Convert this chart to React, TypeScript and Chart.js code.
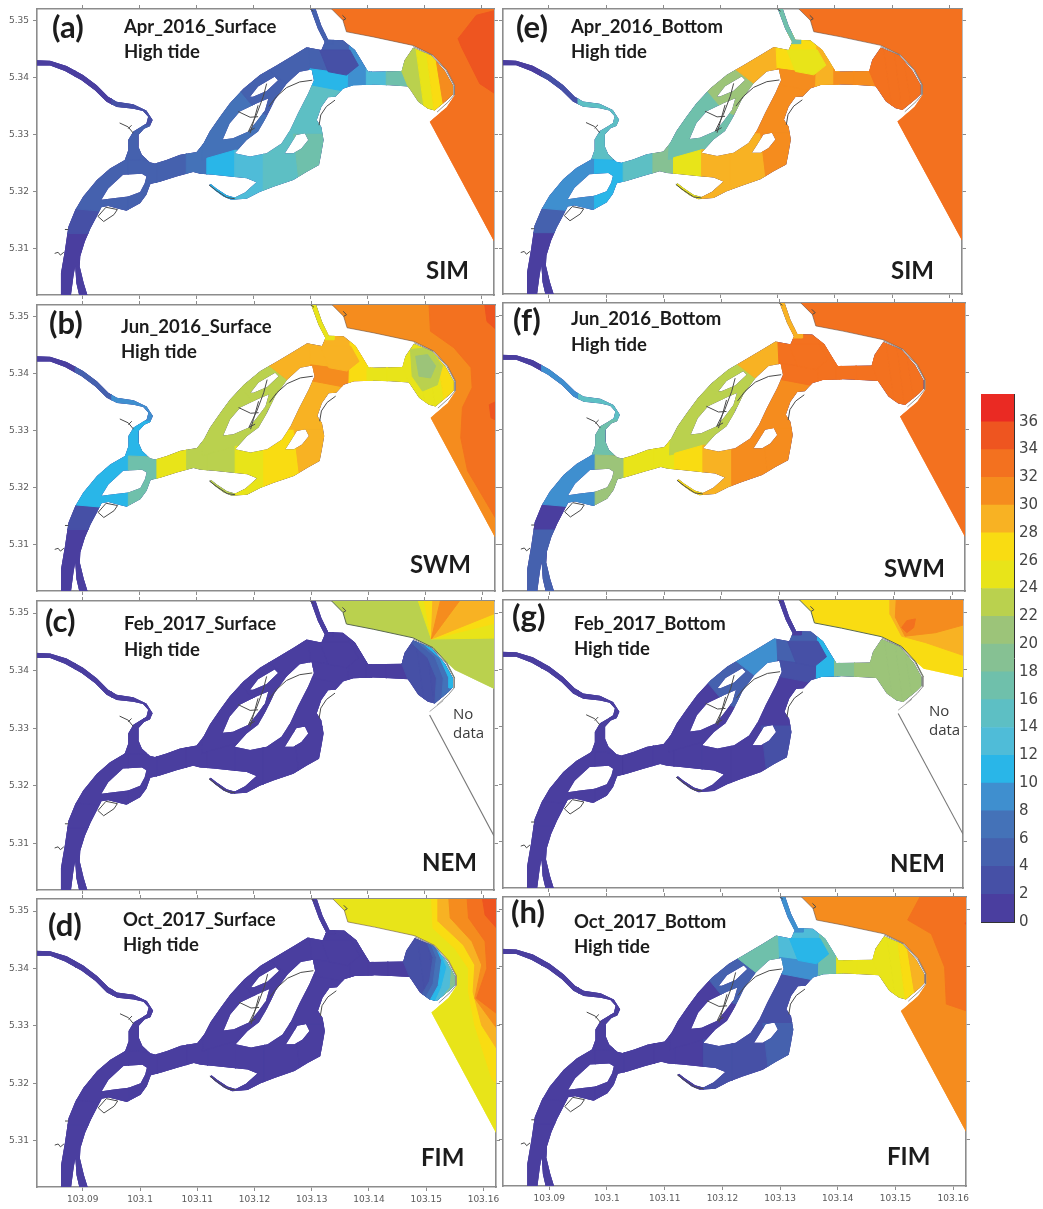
import React, { useEffect, useRef } from "react";
import { Chart, registerables } from "chart.js";

type Pt = number[];

// ---------- colour scale ----------
const colourbarSteps = [0, 2, 4, 6, 8, 10, 12, 14, 16, 18, 20, 22, 24, 26, 28, 30, 32, 34, 36];
const colourbarColours = ["#4a3e9f", "#4650a6", "#4561ae", "#4472b8", "#3f8fcf", "#29b6e8", "#4fbcd8", "#5dbfc4", "#6fc0ab", "#86c193", "#9cc479", "#bad14e", "#e8e419", "#f9dc12", "#f8b223", "#f58c1e", "#f3711f", "#ee5520", "#ea2a23"];
const colourFor = (v: number) => colourbarColours[Math.min(18, Math.floor(v / 2))];

// ---------- axes ----------
const lonTicks = [103.09, 103.1, 103.11, 103.12, 103.13, 103.14, 103.15, 103.16];
const latTicks = [5.31, 5.32, 5.33, 5.34, 5.35];

// ---------- estuary geometry (lon, lat) ----------
const riverOutline: Pt[] = [[103.0816,5.3431],[103.0843,5.3430],[103.0872,5.3421],[103.0901,5.3405],[103.0925,5.3387],[103.0945,5.3367],[103.0960,5.3358],[103.0989,5.3354],[103.1012,5.3343],[103.1023,5.3326],[103.1018,5.3315],[103.1008,5.3311],[103.0998,5.3300],[103.0998,5.3279],[103.1004,5.3265],[103.1018,5.3252],[103.1027,5.3250],[103.1047,5.3256],[103.1071,5.3265],[103.1100,5.3270],[103.1112,5.3285],[103.1123,5.3306],[103.1141,5.3332],[103.1158,5.3355],[103.1182,5.3381],[103.1211,5.3405],[103.1240,5.3422],[103.1270,5.3440],[103.1293,5.3454],[103.1319,5.3449],[103.1325,5.3463],[103.1313,5.3486],[103.1299,5.3524],[103.1308,5.3524],[103.1319,5.3492],[103.1331,5.3467],[103.1357,5.3466],[103.1378,5.3449],[103.1389,5.3431],[103.1401,5.3411],[103.1460,5.3412],[103.1465,5.3431],[103.1480,5.3453],[103.1512,5.3440],[103.1536,5.3412],[103.1550,5.3387],[103.1550,5.3371],[103.1542,5.3363],[103.1518,5.3343],[103.1506,5.3346],[103.1489,5.3358],[103.1477,5.3376],[103.1471,5.3385],[103.1439,5.3387],[103.1410,5.3388],[103.1375,5.3387],[103.1357,5.3381],[103.1344,5.3367],[103.1331,5.3366],[103.1319,5.3349],[103.1311,5.3326],[103.1319,5.3314],[103.1323,5.3291],[103.1319,5.3268],[103.1315,5.3247],[103.1293,5.3235],[103.1270,5.3221],[103.1235,5.3209],[103.1211,5.3200],[103.1188,5.3188],[103.1161,5.3186],[103.1147,5.3192],[103.1132,5.3203],[103.1122,5.3212],[103.1125,5.3214],[103.1135,5.3206],[103.1153,5.3194],[103.1167,5.3190],[103.1185,5.3199],[103.1205,5.3217],[103.1188,5.3224],[103.1158,5.3227],[103.1129,5.3230],[103.1106,5.3232],[103.1094,5.3235],[103.1065,5.3227],[103.1036,5.3218],[103.1019,5.3214],[103.1012,5.3195],[103.1001,5.3180],[103.0977,5.3167],[103.0961,5.3171],[103.0945,5.3175],[103.0933,5.3173],[103.0925,5.3157],[103.0914,5.3136],[103.0904,5.3113],[103.0896,5.3087],[103.0895,5.3069],[103.0902,5.3040],[103.0910,5.3014],[103.0895,5.3014],[103.0889,5.3040],[103.0887,5.3069],[103.0884,5.3052],[103.0879,5.3014],[103.0862,5.3014],[103.0862,5.3057],[103.0869,5.3098],[103.0875,5.3139],[103.0887,5.3168],[103.0901,5.3192],[103.0925,5.3221],[103.0948,5.3241],[103.0974,5.3256],[103.0980,5.3273],[103.0980,5.3291],[103.0989,5.3306],[103.1004,5.3315],[103.1012,5.3320],[103.1015,5.3332],[103.1006,5.3342],[103.0989,5.3346],[103.0960,5.3349],[103.0942,5.3358],[103.0922,5.3378],[103.0898,5.3396],[103.0869,5.3412],[103.0843,5.3422],[103.0816,5.3422]];
const islandNorth: Pt[] = [[103.1194,5.3367],[103.1208,5.3385],[103.1237,5.3402],[103.1243,5.3396],[103.1223,5.3377],[103.1199,5.3367]];
const islandWest: Pt[] = [[103.1146,5.3292],[103.1158,5.3320],[103.1176,5.3341],[103.1205,5.3355],[103.1226,5.3364],[103.1220,5.3343],[103.1205,5.3323],[103.1191,5.3306],[103.1164,5.3294]];
const islandCentral: Pt[] = [[103.1167,5.3268],[103.1188,5.3291],[103.1208,5.3306],[103.1223,5.3332],[103.1237,5.3361],[103.1258,5.3390],[103.1281,5.3411],[103.1302,5.3415],[103.1306,5.3396],[103.1296,5.3373],[103.1278,5.3338],[103.1264,5.3308],[103.1249,5.3285],[103.1223,5.3268],[103.1194,5.3262]];
const islandEast: Pt[] = [[103.1255,5.3268],[103.1264,5.3282],[103.1275,5.3300],[103.1290,5.3303],[103.1296,5.3291],[103.1284,5.3276],[103.1270,5.3268]];
const islandSouthWest: Pt[] = [[103.0933,5.3186],[103.0945,5.3206],[103.0971,5.3230],[103.1004,5.3232],[103.1012,5.3227],[103.1009,5.3215],[103.1001,5.3200],[103.0980,5.3192],[103.0954,5.3189]];
const riverRings = [riverOutline, islandNorth, islandWest, islandCentral, islandEast, islandSouthWest];

const seaCoast: Pt[] = [[103.1334,5.3524],[103.1357,5.3501],[103.1363,5.3481],[103.1410,5.3472],[103.1480,5.3457],[103.1515,5.3440],[103.1539,5.3414],[103.1553,5.3387]];
const seaFull: Pt[] = [[103.1334,5.3530],[103.1650,5.3530],[103.1650,5.3087],[103.1622,5.3113],[103.1509,5.3323],[103.1539,5.3349],[103.1553,5.3370],...seaCoast.slice().reverse()];
const seaNorthFeb: Pt[] = [[103.1334,5.3530],[103.1650,5.3530],[103.1650,5.3355],[103.1553,5.3401],...seaCoast.slice(0, 7).reverse()];
const seaNorthFebBottom: Pt[] = [[103.1334,5.3530],[103.1650,5.3530],[103.1650,5.3380],[103.1553,5.3401],...seaCoast.slice(0, 7).reverse()];

// ---------- thin grey channels ----------
const creekWest: Pt[] = [[103.0965,5.3321],[103.0980,5.3314],[103.0989,5.3303]];
const creekWestTick: Pt[] = [[103.0980,5.3311],[103.0986,5.3317]];
const networkA: Pt[] = [[103.1173,5.3341],[103.1194,5.3331],[103.1208,5.3332]];
const networkB: Pt[] = [[103.1223,5.3390],[103.1217,5.3367],[103.1205,5.3335],[103.1191,5.3306],[103.1202,5.3312]];
const networkC: Pt[] = [[103.1208,5.3352],[103.1199,5.3320],[103.1194,5.3303]];
const creekMid: Pt[] = [[103.1227,5.3350],[103.1240,5.3367],[103.1258,5.3383],[103.1281,5.3393],[103.1303,5.3396]];
const creekEast: Pt[] = [[103.1315,5.3317],[103.1318,5.3335],[103.1328,5.3350],[103.1343,5.3361]];
const tailLine: Pt[] = [[103.1122,5.3212],[103.1135,5.3202],[103.1153,5.3190],[103.1167,5.3188]];
const islandSouthLine: Pt[] = [[103.0927,5.3157],[103.0941,5.3173],[103.0961,5.3169],[103.0955,5.3160],[103.0937,5.3148],[103.0927,5.3157]];
const squiggleWest: Pt[] = [[103.0851,5.3092],[103.0857,5.3094],[103.0861,5.3089],[103.0867,5.3094]];
const stubWest: Pt[] = [[103.0869,5.3134],[103.0875,5.3134]];
const stubNorth: Pt[] = [[103.1296,5.3524],[103.1305,5.3517]];
const coastSquiggle: Pt[] = [[103.1356,5.3510],[103.1362,5.3504],[103.1357,5.3501]];
const basinRim: Pt[] = [[103.1480,5.3455],[103.1513,5.3440],[103.1538,5.3413],[103.1552,5.3387],[103.1552,5.3370],[103.1542,5.3358],[103.1522,5.3340]];
const southSeaEdge: Pt[] = [[103.1509,5.3323],[103.1622,5.3113]];
const gapMark: Pt[] = [[103.1509,5.3329],[103.1533,5.3348]];
const greyLines = [creekWest, creekWestTick, networkA, networkB, networkC, creekMid, creekEast, tailLine, islandSouthLine, squiggleWest, stubWest, stubNorth, coastSquiggle];

// ---------- contour zones of the river, painted in this order ----------
const zones: Pt[][] = [
  [[103.0813,5.3443],[103.0887,5.3443],[103.0887,5.3390],[103.0813,5.3390]],
  [[103.0887,5.3443],[103.0951,5.3443],[103.0951,5.3343],[103.0887,5.3343]],
  [[103.0951,5.3384],[103.1036,5.3384],[103.1036,5.3317],[103.0951,5.3317]],
  [[103.0971,5.3317],[103.1030,5.3317],[103.1012,5.3256],[103.0974,5.3256]],
  [[103.0854,5.3127],[103.0919,5.3127],[103.0919,5.3011],[103.0854,5.3011]],
  [[103.0854,5.3171],[103.0942,5.3171],[103.0919,5.3127],[103.0854,5.3127]],
  [[103.0878,5.3171],[103.0980,5.3162],[103.0980,5.3256],[103.0948,5.3256],[103.0878,5.3192]],
  [[103.0980,5.3256],[103.1030,5.3254],[103.1030,5.3162],[103.0980,5.3162]],
  [[103.1030,5.3279],[103.1082,5.3279],[103.1082,5.3209],[103.1030,5.3209]],
  [[103.1082,5.3285],[103.1118,5.3285],[103.1118,5.3221],[103.1082,5.3221]],
  [[103.1109,5.3256],[103.1112,5.3320],[103.1176,5.3378],[103.1223,5.3335],[103.1211,5.3303],[103.1188,5.3285],[103.1167,5.3270]],
  [[103.1118,5.3259],[103.1167,5.3273],[103.1167,5.3180],[103.1118,5.3180]],
  [[103.1176,5.3378],[103.1217,5.3422],[103.1258,5.3390],[103.1223,5.3335],[103.1205,5.3343]],
  [[103.1217,5.3422],[103.1270,5.3460],[103.1296,5.3460],[103.1305,5.3396],[103.1258,5.3390]],
  [[103.1167,5.3273],[103.1217,5.3273],[103.1217,5.3180],[103.1167,5.3180]],
  [[103.1217,5.3276],[103.1258,5.3306],[103.1270,5.3306],[103.1281,5.3209],[103.1217,5.3180]],
  [[103.1270,5.3303],[103.1334,5.3303],[103.1334,5.3238],[103.1281,5.3209]],
  [[103.1258,5.3303],[103.1334,5.3303],[103.1363,5.3378],[103.1290,5.3390]],
  [[103.1296,5.3478],[103.1357,5.3478],[103.1404,5.3425],[103.1404,5.3402],[103.1299,5.3416]],
  [[103.1299,5.3416],[103.1404,5.3402],[103.1404,5.3378],[103.1363,5.3376],[103.1290,5.3390]],
  [[103.1369,5.3478],[103.1407,5.3437],[103.1407,5.3378],[103.1366,5.3376]],
  [[103.1316,5.3449],[103.1369,5.3449],[103.1384,5.3422],[103.1363,5.3405],[103.1331,5.3411]],
  [[103.1293,5.3530],[103.1340,5.3530],[103.1340,5.3460],[103.1293,5.3460]],
  [[103.1398,5.3425],[103.1433,5.3425],[103.1433,5.3378],[103.1398,5.3378]],
  [[103.1433,5.3425],[103.1464,5.3425],[103.1473,5.3378],[103.1433,5.3378]],
  [[103.1454,5.3466],[103.1483,5.3466],[103.1501,5.3335],[103.1480,5.3335],[103.1471,5.3385],[103.1460,5.3412]],
  [[103.1483,5.3466],[103.1501,5.3466],[103.1518,5.3335],[103.1501,5.3335]],
  [[103.1501,5.3466],[103.1515,5.3466],[103.1536,5.3335],[103.1518,5.3335]],
  [[103.1515,5.3466],[103.1574,5.3466],[103.1574,5.3335],[103.1536,5.3335]],
];

// ---------- salinity in each zone, read per panel ----------
const aprSurface = [1,1,3,5,1,3,5,5,5,7,7,11,5,5,13,15,17,15,5,11,9,3,5,13,17,23,25,27,31];
const junSurface = [1,5,9,11,1,3,11,17,25,23,23,23,23,29,25,27,29,29,29,31,27,29,25,25,25,25,25,25,27];
const febSurface = [1,1,1,1,1,1,1,1,1,1,1,1,1,1,1,1,1,1,1,1,1,1,1,1,1,3,3,3,3];
const octSurface = [1,1,1,1,1,1,1,1,1,1,1,1,1,1,1,1,1,1,1,1,1,1,1,1,1,3,3,3,3];
const aprBottom = [1,3,15,15,1,5,9,11,15,19,17,25,21,29,29,29,31,31,27,31,29,25,17,31,31,33,33,33,33];
const junBottom = [1,9,15,17,5,1,9,21,25,25,23,27,23,29,29,31,31,31,33,33,33,33,29,33,33,33,33,33,33];
const febBottom = [1,1,1,1,1,1,1,1,1,1,1,1,5,9,1,1,3,1,5,3,11,3,1,19,21,21,21,21,21];
const octBottom = [1,1,1,1,1,1,1,1,1,1,1,1,5,17,3,3,5,3,13,9,17,11,9,25,25,25,25,27,29];

// ---------- curved contour bands inside the basin: [salinity, ring] ----------
type Band = [number, Pt[]];
const basinJunSurface: Band[] = [
  [23, [[103.1474,5.3443],[103.1506,5.3446],[103.1530,5.3414],[103.1521,5.3381],[103.1495,5.3370],[103.1477,5.3396]]],
  [21, [[103.1483,5.3431],[103.1504,5.3434],[103.1518,5.3414],[103.1509,5.3393],[103.1489,5.3396]]]];
const basinFebSurface: Band[] = [
  [5, [[103.1480,5.3446],[103.1506,5.3422],[103.1521,5.3387],[103.1518,5.3338],[103.158,5.3338],[103.158,5.3470],[103.1480,5.3470]]],
  [7, [[103.1486,5.3451],[103.1518,5.3425],[103.1533,5.3387],[103.1530,5.3346],[103.158,5.3346],[103.158,5.3470],[103.1486,5.3470]]],
  [11, [[103.1493,5.3451],[103.1527,5.3422],[103.1543,5.3387],[103.1543,5.3370],[103.158,5.3370],[103.158,5.3470],[103.1493,5.3470]]]];
const basinOctSurface: Band[] = [
  [5, [[103.1498,5.3454],[103.1512,5.3419],[103.1506,5.3378],[103.1493,5.3355],[103.1493,5.3330],[103.158,5.3330],[103.158,5.3470],[103.1498,5.3470]]],
  [7, [[103.1504,5.3454],[103.1518,5.3419],[103.1512,5.3373],[103.1499,5.3349],[103.1499,5.3330],[103.158,5.3330],[103.158,5.3470],[103.1504,5.3470]]],
  [11, [[103.1512,5.3449],[103.1527,5.3414],[103.1521,5.3370],[103.1506,5.3343],[103.1506,5.3330],[103.158,5.3330],[103.158,5.3470],[103.1512,5.3470]]],
  [13, [[103.1521,5.3437],[103.1536,5.3402],[103.1527,5.3367],[103.1515,5.3341],[103.1515,5.3330],[103.158,5.3330],[103.158,5.3470],[103.1521,5.3470]]],
  [19, [[103.1530,5.3425],[103.1544,5.3396],[103.1542,5.3367],[103.1527,5.3349],[103.1527,5.3330],[103.158,5.3330],[103.158,5.3470],[103.1530,5.3470]]]];

// ---------- contour bands of the sea: [salinity, ring] ----------
const seaAprSurface: Band[] = [[33, seaFull], [35, [[103.1559,5.3469],[103.1591,5.3510],[103.165,5.3525],[103.165,5.3355],[103.1597,5.3390],[103.1565,5.3454]]]];
const seaJunSurface: Band[] = [[31, seaFull],
  [33, [[103.1506,5.353],[103.1509,5.3475],[103.1550,5.3446],[103.1580,5.3411],[103.1582,5.3376],[103.1565,5.3341],[103.1562,5.3288],[103.1574,5.3230],[103.165,5.3101],[103.165,5.353]]],
  [35, [[103.1603,5.353],[103.1608,5.3492],[103.165,5.3455],[103.165,5.353]]],
  [35, [[103.165,5.3364],[103.1612,5.3346],[103.1615,5.3323],[103.165,5.3306]]]];
const seaFebSurface: Band[] = [[23, seaNorthFeb],
  [25, [[103.1512,5.3455],[103.1486,5.353],[103.165,5.353],[103.165,5.3457]]],
  [27, [[103.1512,5.3455],[103.1498,5.353],[103.165,5.353],[103.165,5.3489]]],
  [29, [[103.1512,5.3455],[103.1515,5.353],[103.1590,5.353],[103.165,5.3510]]],
  [31, [[103.1512,5.3455],[103.1530,5.353],[103.1568,5.353]]]];
const seaOctSurface: Band[] = [[25, seaFull],
  [27, [[103.1509,5.353],[103.1512,5.3470],[103.1550,5.3435],[103.1574,5.3400],[103.1574,5.3359],[103.1585,5.3301],[103.1615,5.3207],[103.165,5.3172],[103.165,5.353]]],
  [29, [[103.1521,5.353],[103.1521,5.3482],[103.1565,5.3441],[103.1585,5.3406],[103.1582,5.3359],[103.1597,5.3301],[103.165,5.3219],[103.165,5.353]]],
  [31, [[103.1539,5.353],[103.1542,5.3488],[103.1580,5.3447],[103.1597,5.3406],[103.1585,5.3348],[103.1615,5.3307],[103.165,5.3260],[103.165,5.353]]],
  [33, [[103.1571,5.353],[103.1574,5.3488],[103.1603,5.3447],[103.1606,5.3400],[103.1588,5.3348],[103.165,5.3301],[103.165,5.353]]],
  [35, [[103.1597,5.353],[103.1603,5.3493],[103.165,5.3440],[103.165,5.353]]]];
const seaAprBottom: Band[] = [[33, seaFull]];
const seaJunBottom: Band[] = [[33, seaFull]];
const seaFebBottom: Band[] = [[27, seaNorthFebBottom],
  [29, [[103.1495,5.353],[103.1495,5.3496],[103.1515,5.3458],[103.1556,5.3447],[103.165,5.3415],[103.165,5.353]]],
  [31, [[103.1506,5.353],[103.1504,5.3491],[103.1521,5.3458],[103.1574,5.3464],[103.165,5.3485],[103.165,5.353]]],
  [33, [[103.1515,5.3473],[103.1524,5.3485],[103.1539,5.3488],[103.1536,5.3473],[103.1524,5.3464]]]];
const seaOctBottom: Band[] = [[31, seaFull],
  [33, [[103.1547,5.353],[103.1521,5.3481],[103.1562,5.3457],[103.1585,5.3399],[103.1588,5.3335],[103.165,5.3314],[103.165,5.353]]],
  [35, [[103.165,5.3498],[103.1620,5.3475],[103.165,5.3457]]]];

// ---------- panels: frame = left, right, top, bottom on the page ----------
type Txt = [string, number, number, string];
const boldLetter = "bold 31px Lato";
const boldTitle = "bold 18.5px Lato";
const boldSeason = "bold 24px Lato";
const plain = "15px 'Open Sans'";
const panels = [
  { frame: [37, 494, 9, 295], river: aprSurface, basin: [], sea: seaAprSurface, texts: [["(a)", 52, 38, boldLetter], ["Apr_2016_Surface", 124, 33, boldTitle], ["High tide", 124, 58, boldTitle], ["SIM", 426, 279, boldSeason]] as Txt[] },
  { frame: [37, 495, 305, 591], river: junSurface, basin: basinJunSurface, sea: seaJunSurface, texts: [["(b)", 49, 334, boldLetter], ["Jun_2016_Surface", 121, 333, boldTitle], ["High tide", 121, 358, boldTitle], ["SWM", 410, 573, boldSeason]] as Txt[] },
  { frame: [37, 494, 601, 890], river: febSurface, basin: basinFebSurface, sea: seaFebSurface, noData: true, texts: [["(c)", 45, 632, boldLetter], ["Feb_2017_Surface", 124, 630, boldTitle], ["High tide", 124, 656, boldTitle], ["NEM", 422, 871, boldSeason], ["No", 453, 719, plain], ["data", 453, 738, plain]] as Txt[] },
  { frame: [37, 496, 899, 1187], river: octSurface, basin: basinOctSurface, sea: seaOctSurface, texts: [["(d)", 48, 936, boldLetter], ["Oct_2017_Surface", 123, 926, boldTitle], ["High tide", 123, 951, boldTitle], ["FIM", 421, 1166, boldSeason]] as Txt[], xLabels: true },
  { frame: [503, 962, 9, 294], river: aprBottom, basin: [], sea: seaAprBottom, texts: [["(e)", 516, 38, boldLetter], ["Apr_2016_Bottom", 571, 33, boldTitle], ["High tide", 571, 58, boldTitle], ["SIM", 891, 279, boldSeason]] as Txt[] },
  { frame: [503, 965, 303, 591], river: junBottom, basin: [], sea: seaJunBottom, texts: [["(f)", 513, 331, boldLetter], ["Jun_2016_Bottom", 571, 325, boldTitle], ["High tide", 571, 351, boldTitle], ["SWM", 884, 577, boldSeason]] as Txt[] },
  { frame: [503, 963, 600, 888], river: febBottom, basin: [], sea: seaFebBottom, noData: true, texts: [["(g)", 512, 627, boldLetter], ["Feb_2017_Bottom", 574, 630, boldTitle], ["High tide", 574, 655, boldTitle], ["NEM", 890, 872, boldSeason], ["No", 929, 716, plain], ["data", 929, 735, plain]] as Txt[] },
  { frame: [503, 966, 897, 1186], river: octBottom, basin: [], sea: seaOctBottom, texts: [["(h)", 511, 923, boldLetter], ["Oct_2017_Bottom", 574, 928, boldTitle], ["High tide", 574, 953, boldTitle], ["FIM", 887, 1165, boldSeason]] as Txt[], xLabels: true },
];
const LON_MIN = 103.0820, LON_MAX = 103.1622, LAT_MIN = 5.3019, LAT_MAX = 5.3521;

// Masks every filled band to the water it belongs to; must run before the Filler plugin.
const maskPlugin = {
  id: "waterMask",
  beforeDatasetDraw(chart: any, args: any) {
    const rings = chart.data.datasets[args.index].maskRings;
    if (!rings) return;
    const { ctx, scales } = chart;
    ctx.save();
    ctx.beginPath();
    for (const ring of rings) {
      ring.forEach((p: Pt, i: number) => {
        const px = scales.x.getPixelForValue(p[0]);
        const py = scales.y.getPixelForValue(p[1]);
        if (i === 0) ctx.moveTo(px, py); else ctx.lineTo(px, py);
      });
      ctx.closePath();
    }
    ctx.clip("evenodd");
  },
  afterDatasetDraw(chart: any, args: any) {
    if (chart.data.datasets[args.index].maskRings) chart.ctx.restore();
  },
};
Chart.register(maskPlugin, ...registerables);

const toXY = (ring: Pt[]) => ring.map((p) => ({ x: p[0], y: p[1] }));
const frameGrey = "#8c8c8c";
const labelGrey = "#5a5a5a";
const blur = "blur(0.55px)";
const noPadding = (s: any) => { s.paddingTop = 0; s.paddingBottom = 0; s.paddingLeft = 0; s.paddingRight = 0; };

function buildDatasets(panel: any) {
  const sets: any[] = [];
  const band = (ring: Pt[], value: number, maskRings: Pt[][]) => {
    const colour = colourFor(value);
    sets.push({ data: toXY([...ring, ring[0]]), showLine: true, fill: "shape", backgroundColor: colour, borderColor: colour, borderWidth: 1, pointRadius: 0, maskRings });
  };
  const line = (ring: Pt[], color: string, borderWidth: number) =>
    sets.push({ data: toXY(ring), showLine: true, fill: false, borderColor: color, borderWidth, pointRadius: 0, tension: 0 });
  band(riverOutline, 1, riverRings);
  panel.river.forEach((v: number, i: number) => band(zones[i], v, riverRings));
  panel.basin.forEach((b: Band) => band(b[1], b[0], riverRings));
  const seaMask = [panel.sea[0][1]];
  panel.sea.forEach((b: Band) => band(b[1], b[0], seaMask));
  greyLines.forEach((l) => line(l, "#4a4a4a", 1));
  line(seaCoast, panel.noData ? "#5a6a50" : "rgba(110,90,80,0.6)", 1);
  line(basinRim, "rgba(120,120,120,0.8)", 1);
  if (panel.noData) { line(southSeaEdge, "#777777", 1.1); line(gapMark, "#aaaaaa", 1); }
  sets.forEach((s, i) => { s.order = -i; });
  return sets;
}

function Panel({ panel, col }: { panel: any; col: number }) {
  const ref = useRef<HTMLCanvasElement>(null);
  const [l, r, t, b] = panel.frame;
  const mL = col === 0 ? 37 : 4, mR = 5, mT = 5, mB = panel.xLabels ? 22 : 5;
  const left = l - mL, top = t - mT;
  const width = r - l + mL + mR, height = b - t + mT + mB;
  useEffect(() => {
    const textPlugin = {
      id: "panelText",
      afterDatasetsDraw(chart: any) {
        const ctx = chart.ctx;
        ctx.save();
        ctx.textAlign = "left";
        ctx.textBaseline = "alphabetic";
        for (const [s, x, y, font] of panel.texts as Txt[]) {
          ctx.font = font;
          ctx.fillStyle = font === plain ? "#3a3a3a" : "#1c1c1c";
          ctx.fillText(s, x - left, y - top);
        }
        ctx.restore();
      },
    };
    const axis = (extra: any) => ({
      type: "linear",
      border: { display: true, color: frameGrey, width: 1.6 },
      grid: { display: true, drawOnChartArea: false, drawTicks: true, tickLength: 4, color: frameGrey, lineWidth: 1 },
      ...extra,
    });
    const lonScale = (position: string, size: number, labels: boolean) => axis({
      position, min: LON_MIN, max: LON_MAX,
      afterBuildTicks: (s: any) => { s.ticks = lonTicks.map((value) => ({ value })); },
      afterFit: (s: any) => { s.height = size; noPadding(s); },
      ticks: { display: labels, autoSkip: false, maxRotation: 0, padding: 3, color: labelGrey, font: { family: "DejaVu Sans", size: 9 }, callback: (v: number) => String(+Number(v).toFixed(2)) },
    });
    const latScale = (position: string, size: number, labels: boolean) => axis({
      position, min: LAT_MIN, max: LAT_MAX,
      afterBuildTicks: (s: any) => { s.ticks = latTicks.map((value) => ({ value })); },
      afterFit: (s: any) => { s.width = size; noPadding(s); },
      ticks: { display: labels, autoSkip: false, padding: 4, color: labelGrey, font: { family: "DejaVu Sans", size: 9 }, callback: (v: number) => Number(v).toFixed(2) },
    });
    const chart = new Chart(ref.current as any, {
      type: "scatter",
      data: { datasets: buildDatasets(panel) },
      plugins: [textPlugin],
      options: {
        responsive: false, animation: false, devicePixelRatio: 1,
        layout: { padding: 0 },
        events: [],
        plugins: { legend: { display: false }, title: { display: false }, tooltip: { enabled: false } },
        scales: {
          x: lonScale("bottom", mB, !!panel.xLabels),
          xTop: lonScale("top", mT, false),
          y: latScale("left", mL, col === 0),
          yRight: latScale("right", mR, false),
        },
      },
    } as any);
    return () => chart.destroy();
  }, []);
  return <canvas ref={ref} width={width} height={height} style={{ position: "absolute", left, top, width, height, filter: blur }} />;
}

function Colourbar() {
  const ref = useRef<HTMLCanvasElement>(null);
  const left = 975, top = 388, width = 68, height = 547;
  useEffect(() => {
    const edge = { display: true, color: "#333333", width: 1 };
    const bare = (position: string, size: number, horizontal: boolean, extra: any = {}) => ({
      position, border: edge, grid: { display: false }, ticks: { display: false },
      afterFit: (s: any) => { if (horizontal) s.height = size; else s.width = size; noPadding(s); },
      ...extra,
    });
    const chart = new Chart(ref.current as any, {
      type: "bar",
      data: {
        labels: ["salinity"],
        datasets: colourbarSteps.map((_, i) => ({ data: [2], backgroundColor: colourbarColours[i], barPercentage: 1, categoryPercentage: 1, borderWidth: 0, stack: "bar" })),
      },
      options: {
        responsive: false, animation: false, devicePixelRatio: 1,
        layout: { padding: 0 }, events: [],
        plugins: { legend: { display: false }, tooltip: { enabled: false } },
        scales: {
          x: { ...bare("bottom", 13, true), type: "category", stacked: true },
          xTop: { ...bare("top", 6, true), type: "category", labels: ["salinity"] },
          yLeft: { ...bare("left", 6, false), type: "linear", min: 0, max: 38 },
          y: {
            type: "linear", position: "right", stacked: true, min: 0, max: 38, border: edge, grid: { display: false, drawTicks: false },
            afterBuildTicks: (s: any) => { s.ticks = colourbarSteps.map((value) => ({ value })); },
            afterFit: (s: any) => { s.width = 29; noPadding(s); },
            ticks: { autoSkip: false, padding: 5, color: "#444444", font: { family: "DejaVu Sans", size: 15 } },
          },
        },
      },
    } as any);
    return () => chart.destroy();
  }, []);
  return <canvas ref={ref} width={width} height={height} style={{ position: "absolute", left, top, width, height, filter: blur }} />;
}

export default function App() {
  return (
    <div style={{ position: "absolute", left: 0, top: 0, width: 1043, height: 1209, background: "#ffffff", overflow: "hidden" }}>
      {panels.map((p, i) => <Panel key={i} panel={p} col={i < 4 ? 0 : 1} />)}
      <Colourbar />
    </div>
  );
}
